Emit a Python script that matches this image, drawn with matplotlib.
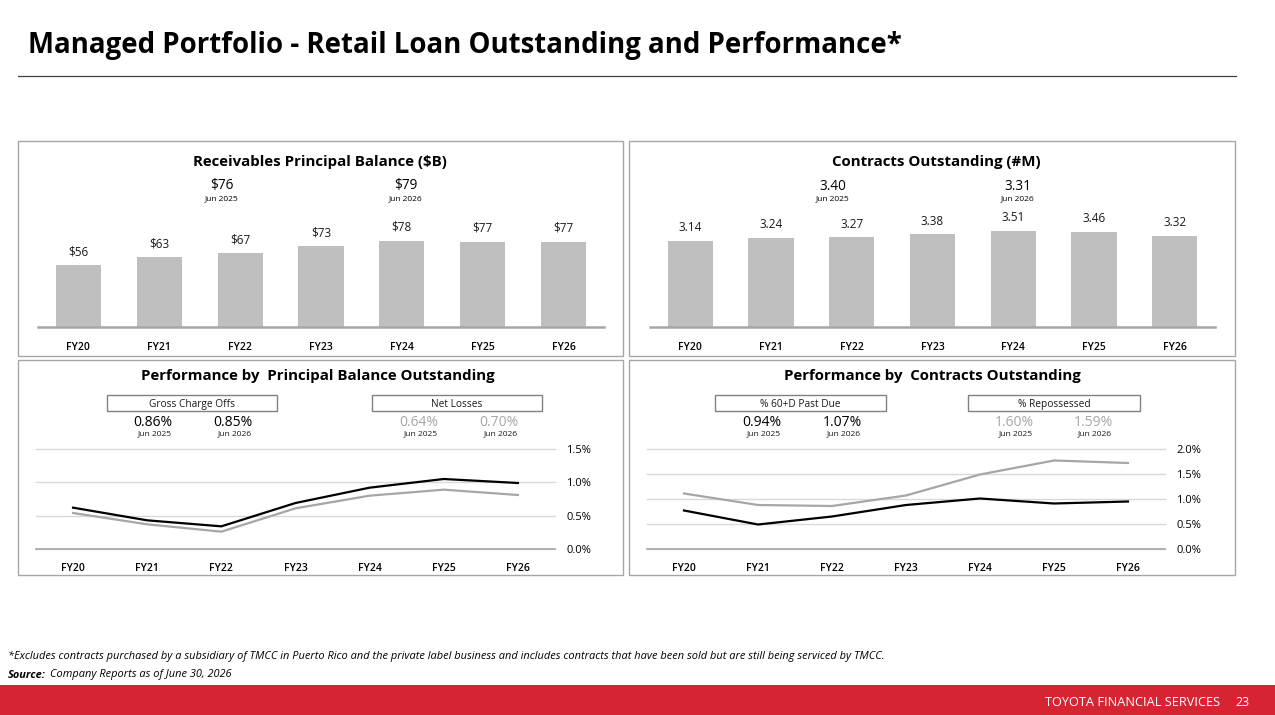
import matplotlib.pyplot as plt
from matplotlib.patches import Rectangle

plt.rcParams['font.family'] = ['Open Sans', 'DejaVu Sans']

W, H = 1275, 715

years = ["FY20", "FY21", "FY22", "FY23", "FY24", "FY25", "FY26"]
receivables = [56, 63, 67, 73, 78, 77, 77]
contracts = [3.14, 3.24, 3.27, 3.38, 3.51, 3.46, 3.32]
gross_charge_offs = [0.62, 0.43, 0.34, 0.69, 0.92, 1.05, 0.99]
net_losses = [0.54, 0.37, 0.26, 0.61, 0.80, 0.89, 0.81]
past_due_60 = [0.77, 0.49, 0.65, 0.88, 1.01, 0.91, 0.95]
repossessed = [1.11, 0.88, 0.86, 1.07, 1.49, 1.77, 1.72]


def fx(x):
    return x / W


def fy(y):
    return 1 - y / H


def add_axes(x0, y0, x1, y1):
    # pixel box (top-left origin) -> figure axes
    return fig.add_axes([fx(x0), fy(y1), (x1 - x0) / W, (y1 - y0) / H])


def txt(x, y, s, **kw):
    kw.setdefault("ha", "center")
    kw.setdefault("va", "center")
    fig.text(fx(x), fy(y), s, **kw)


def panel(x0, y0, x1, y1):
    fig.patches.append(Rectangle((fx(x0), fy(y1)), (x1 - x0) / W, (y1 - y0) / H,
                                 transform=fig.transFigure, fill=False,
                                 edgecolor="#A6A6A6", linewidth=1))


def bar_chart(ax, values, labels, top):
    xs = range(len(values))
    ax.bar(xs, values, width=0.56, color="#BFBFBF", zorder=2)
    for x, v, lab in zip(xs, values, labels):
        ax.annotate(lab, (x, v), xytext=(0, 5), textcoords="offset points",
                    ha="center", va="bottom", fontsize=8.5, color="#1A1A1A")
    ax.set_xlim(-0.5, len(values) - 0.5)
    ax.set_ylim(0, top)
    ax.set_xticks(list(xs))
    ax.set_xticklabels(years, fontsize=7.5, fontweight="semibold")
    ax.tick_params(axis="x", length=0, pad=11)
    ax.set_yticks([])
    for s in ["top", "left", "right"]:
        ax.spines[s].set_visible(False)
    ax.spines["bottom"].set_color("#A6A6A6")
    ax.spines["bottom"].set_linewidth(1.8)
    ax.patch.set_alpha(0)


def line_chart(ax, s1, s2, top):
    xs = range(len(s1))
    ax.plot(xs, s2, color="#A6A6A6", linewidth=1.6, zorder=3)
    ax.plot(xs, s1, color="#000000", linewidth=1.6, zorder=4)
    ax.set_xlim(-0.5, len(s1) - 0.5)
    ax.set_ylim(0, top)
    ticks = [i * 0.5 for i in range(int(top / 0.5) + 1)]
    ax.set_yticks(ticks)
    ax.set_yticklabels([f"{t:.1f}%" for t in ticks], fontsize=8)
    ax.yaxis.tick_right()
    ax.tick_params(axis="y", length=0, pad=8)
    ax.grid(axis="y", color="#D9D9D9", linewidth=1, clip_on=False)
    ax.set_xticks(list(xs))
    ax.set_xticklabels(years, fontsize=7.5, fontweight="semibold")
    ax.tick_params(axis="x", length=0, pad=10)
    for s in ["top", "left", "right"]:
        ax.spines[s].set_visible(False)
    ax.spines["bottom"].set_color("#A6A6A6")
    ax.spines["bottom"].set_linewidth(1.2)
    ax.patch.set_alpha(0)


def legend_box(x0, x1, label):
    fig.patches.append(Rectangle((fx(x0), fy(411)), (x1 - x0) / W, 16 / H,
                                 transform=fig.transFigure, fill=False,
                                 edgecolor="#808080", linewidth=1))
    txt((x0 + x1) / 2, 404, label, fontsize=7.3, color="#1A1A1A")


def stat(x, value, period, color):
    txt(x, 422, value, fontsize=10, color=color)
    txt(x + 2, 434, period, fontsize=6.1, color="#1A1A1A")


fig = plt.figure(figsize=(W / 100, H / 100), dpi=100)

# header
txt(28, 46, "Managed Portfolio - Retail Loan Outstanding and Performance*",
    ha="left", fontsize=19.9, fontweight="bold", color="#000000")
fig.add_artist(plt.Line2D([fx(18), fx(1236)], [fy(76), fy(76)], color="#404040", linewidth=0.9))

# panels
panel(18, 141, 623, 356)
panel(629, 141, 1235, 356)
panel(18, 360, 623, 575)
panel(629, 360, 1235, 575)

# top left: receivables
txt(320, 162, "Receivables Principal Balance ($B)", fontsize=10.8, fontweight="bold")
ax1 = add_axes(38, 180, 604, 327)
bar_chart(ax1, receivables, [f"${v}" for v in receivables], 133)
txt(222, 186, "$76", fontsize=9.8)
txt(222, 199, "Jun 2025", fontsize=6)
txt(406, 186, "$79", fontsize=9.8)
txt(406, 199, "Jun 2026", fontsize=6)

# top right: contracts
txt(936, 162, "Contracts Outstanding (#M)", fontsize=10.8, fontweight="bold")
ax2 = add_axes(650, 180, 1215, 327)
bar_chart(ax2, contracts, [f"{v:.2f}" for v in contracts], 5.37)
txt(833, 186, "3.40", fontsize=9.8)
txt(833, 199, "Jun 2025", fontsize=6)
txt(1018, 186, "3.31", fontsize=9.8)
txt(1018, 199, "Jun 2026", fontsize=6)

# bottom left: principal balance performance
txt(318, 376, "Performance by  Principal Balance Outstanding", fontsize=10.8, fontweight="bold")
legend_box(107, 277, "Gross Charge Offs")
legend_box(372, 542, "Net Losses")
stat(153, "0.86%", "Jun 2025", "#000000")
stat(233, "0.85%", "Jun 2026", "#000000")
stat(419, "0.64%", "Jun 2025", "#A6A6A6")
stat(499, "0.70%", "Jun 2026", "#A6A6A6")
ax3 = add_axes(36, 449, 555, 549)
line_chart(ax3, gross_charge_offs, net_losses, 1.5)

# bottom right: contracts performance
txt(932, 376, "Performance by  Contracts Outstanding", fontsize=10.8, fontweight="bold")
legend_box(715, 886, "% 60+D Past Due")
legend_box(968, 1140, "% Repossessed")
stat(762, "0.94%", "Jun 2025", "#000000")
stat(842, "1.07%", "Jun 2026", "#000000")
stat(1014, "1.60%", "Jun 2025", "#A6A6A6")
stat(1093, "1.59%", "Jun 2026", "#A6A6A6")
ax4 = add_axes(647, 449, 1165, 549)
line_chart(ax4, past_due_60, repossessed, 2.0)

# footnotes
txt(8, 656, "*Excludes contracts purchased by a subsidiary of TMCC in Puerto Rico and the private label "
    "business and includes contracts that have been sold but are still being serviced by TMCC.",
    ha="left", fontsize=7.9, style="italic", color="#000000")
txt(8, 675, "Source:", ha="left", fontsize=7.9, style="italic", fontweight="bold")
txt(50, 675, "Company Reports as of June 30, 2026", ha="left", fontsize=7.9, style="italic")

# red footer bar
fig.patches.append(Rectangle((0, 0), 1, 30 / H, transform=fig.transFigure,
                             facecolor="#D72433", edgecolor="none"))
txt(1220, 702, "TOYOTA FINANCIAL SERVICES", ha="right", fontsize=9.2, color="white")
txt(1243, 703, "23", fontsize=9, color="white")

fig.savefig("out.png", dpi=100, facecolor="white")
